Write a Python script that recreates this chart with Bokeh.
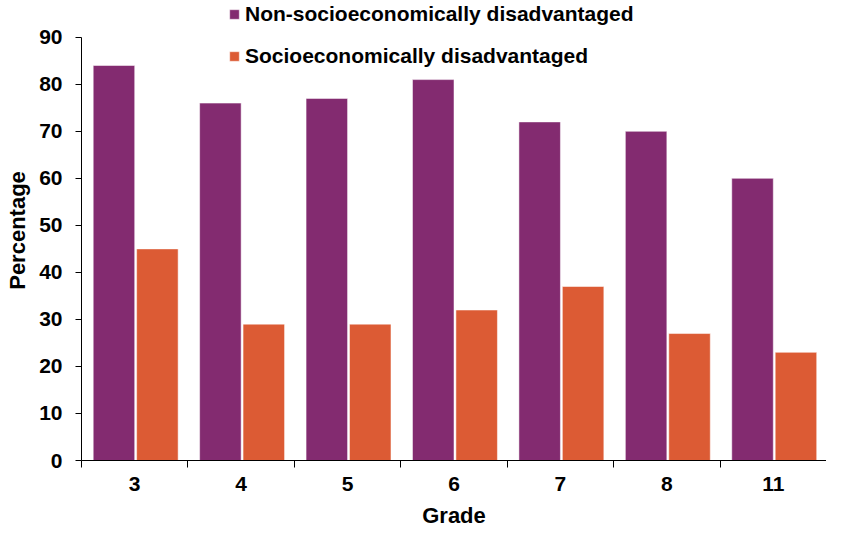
from bokeh.plotting import figure
from bokeh.models import ColumnDataSource, Range1d, FixedTicker, Legend, LegendItem
from bokeh.transform import dodge
from bokeh.embed import file_html
from bokeh.resources import INLINE

grades = ["3", "4", "5", "6", "7", "8", "11"]
non_disadvantaged = [84, 76, 77, 81, 72, 70, 60]
disadvantaged = [45, 29, 29, 32, 37, 27, 23]
y_ticks = [0, 10, 20, 30, 40, 50, 60, 70, 80, 90]

PURPLE = "#832B70"
ORANGE = "#DC5B34"
FONT = "Liberation Sans"

xpos = [i + 0.5 for i in range(len(grades))]
src = ColumnDataSource(dict(x=xpos, grade=grades, non=non_disadvantaged, dis=disadvantaged))

p = figure(width=826, height=530, output_backend="svg", toolbar_location=None,
           x_range=Range1d(0, len(grades)), y_range=Range1d(0, 97.82),
           min_border_left=81, min_border_right=0, min_border_top=0, min_border_bottom=67)
p.outline_line_color = None
p.xgrid.visible = False
p.ygrid.visible = False
p.background_fill_color = "white"
p.border_fill_color = "white"

r1 = p.vbar(x=dodge("x", -0.195, range=p.x_range), top="non", width=0.39, source=src,
            fill_color=PURPLE, line_color="white", line_alpha=0.5, line_width=1)
r2 = p.vbar(x=dodge("x", 0.213, range=p.x_range), top="dis", width=0.39, source=src,
            fill_color=ORANGE, line_color="white", line_alpha=0.5, line_width=1)

# x axis
xa = p.xaxis[0]
xa.ticker = FixedTicker(ticks=xpos, minor_ticks=list(range(len(grades) + 1)))
xa.major_label_overrides = {x: g for x, g in zip(xpos, grades)}
xa.major_tick_out = 0
xa.major_tick_in = 0
xa.minor_tick_out = 7
xa.minor_tick_in = 0
xa.axis_line_color = "black"
xa.minor_tick_line_color = "black"
xa.axis_label = "Grade"
xa.axis_label_text_font = FONT
xa.axis_label_text_font_style = "bold"
xa.axis_label_text_font_size = "22px"
xa.axis_label_text_color = "black"
xa.axis_label_standoff = 9
xa.major_label_text_font = FONT
xa.major_label_text_font_style = "bold"
xa.major_label_text_font_size = "21px"
xa.major_label_text_color = "black"
xa.major_label_standoff = 9

# y axis
ya = p.yaxis[0]
ya.ticker = FixedTicker(ticks=y_ticks)
ya.bounds = (0, 90)
ya.major_tick_out = 6
ya.major_tick_in = 0
ya.minor_tick_out = 0
ya.minor_tick_in = 0
ya.axis_line_color = "black"
ya.major_tick_line_color = "black"
ya.axis_label = "Percentage"
ya.axis_label_text_font = FONT
ya.axis_label_text_font_style = "bold"
ya.axis_label_text_font_size = "22px"
ya.axis_label_text_color = "black"
ya.axis_label_standoff = 6
ya.major_label_text_font = FONT
ya.major_label_text_font_style = "bold"
ya.major_label_text_font_size = "21px"
ya.major_label_text_color = "black"
ya.major_label_standoff = 13

legend = Legend(items=[LegendItem(label="Non-socioeconomically disadvantaged", renderers=[r1]),
                       LegendItem(label="Socioeconomically disadvantaged", renderers=[r2])],
                location=(147, 392), orientation="vertical")
legend.padding = 0
legend.margin = 0
legend.spacing = 18
legend.border_line_color = None
legend.background_fill_alpha = 0
legend.glyph_width = 12
legend.glyph_height = 12
legend.label_height = 24
legend.label_standoff = 5
legend.label_text_font = FONT
legend.label_text_font_style = "bold"
legend.label_text_font_size = "21px"
legend.label_text_color = "black"
p.add_layout(legend, "center")

open("out.html", "w").write(file_html(p, INLINE))
